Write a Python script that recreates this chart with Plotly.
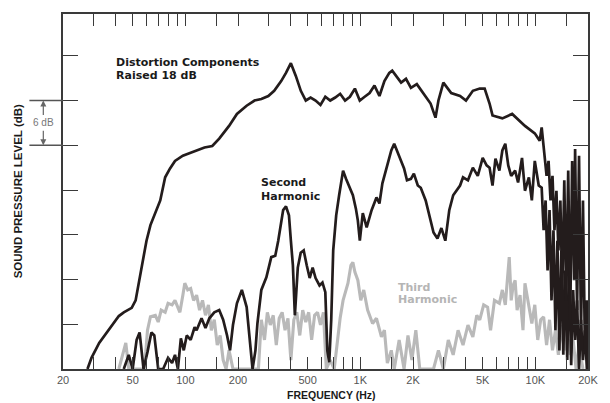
import math
import plotly.graph_objects as go

# Fundamental response (Hz, dB)
fund_freq = [27.6, 29.1, 32.2, 35.3, 38.2, 41.7, 44.5, 49.4, 52.0, 54.1, 56.9, 60.0, 63.2, 67.4,
             71.9, 76.7, 81.8, 87.3, 96.8, 107.3, 117.5, 128.7, 142.6, 156.2, 177.8, 197.2, 224,
             248.6, 272, 298, 322, 353, 376, 401, 428, 457, 488, 520, 555, 592, 631, 673, 719, 767,
             818, 872, 931, 993, 1059, 1130, 1205, 1286, 1373, 1464, 1522, 1603, 1710, 1824, 1946,
             2103, 2303, 2521, 2689, 2795, 2982, 3307, 3715, 4016, 4396, 4813, 5134, 5477, 5694,
             6480, 7375, 8074, 8726, 9931, 10594, 10872,
             11302, 11598, 11902, 12214, 12535, 12863, 13200, 13546, 13902, 14266, 14640, 15024,
             15418, 15822, 16237, 16662, 16879, 17322, 17776, 18241, 18720, 19210, 19714, 20000]
fund_db = [0.0, 1.5, 3.5, 4.8, 5.9, 7.1, 7.6, 8.2, 9.2, 11.5, 14.3, 17.2, 19.3, 20.9,
           22.6, 25.7, 26.9, 27.9, 28.6, 29.0, 29.3, 29.7, 29.9, 30.9, 32.6, 34.2, 35.3,
           36.0, 36.2, 36.6, 37.3, 38.6, 39.7, 41.0, 39.3, 37.3, 36.0, 36.4, 36.0, 35.4, 36.5, 36.0, 36.4, 36.9,
           36.0, 36.5, 37.6, 36.0, 36.5, 37.0, 38.0, 36.6, 38.6, 39.7, 40.0, 39.3, 38.4, 38.9, 37.7,
           38.2, 36.9, 35.6, 33.7, 36.0, 38.4, 37.0, 36.6, 36.0, 37.3, 37.6, 37.6, 35.6, 34.0,
           33.6, 34.2, 33.3, 32.6, 31.6, 30.6, 32.4,
           28.3, 25.9, 27.9, 22.6, 25.9, 18.6, 23.9, 15.9, 22.6, 10.6, 25.3, 9.2,
           26.6, 6.6, 27.9, 11.9, 29.5, 7.9, 28.6, 5.2, 22.6, 2.5, 9.2, 0.0]

# Second harmonic, raised 18 dB (Hz, dB)
h2_freq = [44.5, 47.5, 50.0, 52.7, 54.8, 57.7, 60.8, 64.0, 66.5, 70.0, 74.7, 79.7, 84.0, 87.3,
           90.7, 94.3, 98.0, 101.9, 107.3, 113.0, 116.0, 123.8, 130.4, 137.2, 146.4, 156.2, 164.5,
           173.2, 180.1, 187.2, 197.2, 210.4, 224.1, 233, 242.2, 251.6, 258.2, 271.9, 290.5, 309.9,
           326.6, 339.6, 353, 362.3, 376.1, 391, 401, 411.8, 422.6, 439.3, 456.6, 474.7, 494, 513.6,
           534, 555, 584.5, 607.6, 631, 647.6, 664.5, 682, 700, 728, 756.7, 776.6, 797, 828.3, 861,
           906.8, 943.3, 968, 993.4, 1033, 1087, 1160, 1237, 1286, 1337, 1427, 1503, 1562, 1624,
           1710, 1778, 1848, 1946, 2023, 2130, 2215, 2363, 2489, 2620, 2759, 2906, 3060, 3223, 3394,
           3528, 3715, 3863, 4121, 4396, 4690, 5003, 5269, 5477, 5694, 5919, 6233, 6480, 6737, 7004,
           7280, 7667, 7971, 8394, 8726, 9189, 9553, 9931, 10458,
           10872, 11157, 11449, 11750, 12057, 12373, 12698, 13030, 13373, 13722, 14083, 14452,
           14830, 15220, 15619, 16028, 16448, 16879, 17322, 17776, 18241, 18720, 19210, 19714]
h2_db = [0.0, 1.9, 0.0, 3.9, 4.9, 0.0, 2.3, 4.9, 4.5, 0.0, 0.0, 1.5, 0.8, 1.9,
         0.0, 4.1, 2.5, 4.5, 3.9, 5.6, 5.2, 6.8, 5.5, 6.8, 7.6, 7.9, 6.6,
         4.5, 2.5, 5.9, 8.8, 10.6, 8.3, 3.9, 0.0, 2.5, 6.1, 10.6, 12.3, 15.0,
         15.2, 17.2, 19.7, 21.3, 21.8, 20.6, 17.2, 13.9, 7.2, 13.6, 15.6, 15.9, 13.9, 12.2,
         13.6, 12.2, 11.2, 11.6, 10.3, 2.5, 0.9, 6.6, 15.9, 20.6, 23.3, 25.3, 26.6, 25.5, 24.6,
         23.3, 21.5, 19.9, 17.2, 20.9, 19.0, 21.3, 23.0, 22.2, 24.9, 27.5, 29.3, 30.2, 29.3,
         27.9, 26.9, 25.3, 25.5, 26.2, 24.6, 24.3, 22.6, 20.6, 18.3, 17.5, 18.9, 17.2, 21.3, 23.3,
         23.9, 24.6, 25.7, 25.3, 27.0, 25.9, 28.3, 27.3, 27.0, 24.6, 28.2, 26.6, 29.3, 30.2, 27.3,
         25.9, 26.6, 25.0, 28.3, 23.9, 25.7, 22.6, 27.9, 24.6,
         24.3, 18.6, 22.6, 13.2, 21.3, 9.2, 18.6, 5.2, 17.2, 2.5, 15.9, 1.9,
         13.2, 1.2, 14.6, 0.5, 10.6, 3.9, 9.2, 0.0, 6.6, 1.2, 5.2, 0.0]

# Third harmonic, raised 18 dB (Hz, dB)
h3_freq = [41.7, 44.0, 45.7, 47.5, 58.4, 60.8, 63.2, 67.4, 70.0, 72.8, 76.7, 79.7, 84.0, 87.3,
           90.7, 93.1, 96.8, 99.3, 103.2, 107.3, 111.5, 116.0, 120.6, 125.4, 130.4, 135.5, 140.8,
           146.4, 152.2, 158.2, 164.5, 171.0, 177.8, 187.2, 197.2, 261.6, 271.9, 283.4, 294.3, 306,
           318, 331, 344, 357.6, 371.4, 386, 401, 417, 433.6, 450.8, 468.6, 487.7, 507, 527, 548,
           569.6, 592, 615.5, 639.3, 673, 709.3, 737.4, 766.6, 797, 828.3, 850, 883.7, 906.8, 931,
           968, 1006, 1046, 1101, 1175, 1237, 1320, 1373, 1427, 1503, 1562, 1667, 1778, 1872, 1971,
           2076, 2186, 2394, 2620, 2795, 2982, 3182, 3394, 3620, 3863, 4121, 4396, 4629, 4813, 5068,
           5337, 5549, 5843, 6233, 6480, 6737, 6914, 7095, 7280, 7471, 7667, 7868, 8179, 8503, 8726,
           9071, 9553, 9931, 10324, 10732, 11157, 11598, 12057, 12535, 13030, 13546, 14083, 14640,
           15220, 15822, 16448, 17099, 17776, 18720]
h3_db = [0.0, 1.9, 3.5, 0.0, 0.0, 5.2, 7.0, 7.2, 6.3, 7.9, 7.6, 8.8, 8.6, 9.2,
         8.2, 7.6, 9.9, 11.5, 10.6, 10.8, 9.2, 9.9, 7.9, 9.2, 7.2, 8.6, 5.2,
         6.6, 3.2, 4.5, 1.2, 0.0, 2.5, 0.0, 0.0, 0.0, 6.6, 3.9, 7.6, 5.9,
         7.2, 3.2, 6.8, 7.6, 5.2, 6.8, 1.2, 6.6, 7.6, 4.5, 7.9, 6.3, 7.6, 3.9, 7.2,
         7.6, 5.9, 7.6, 0.0, 1.2, 0.0, 3.9, 6.8, 9.2, 10.6, 11.5, 13.9, 14.3, 13.0,
         11.9, 9.2, 10.6, 7.9, 6.1, 6.8, 4.3, 5.2, 0.8, 2.5, 0.0, 3.9, 0.0, 4.5, 1.2,
         5.2, 0.0, 0.0, 0.0, 2.5, 0.0, 3.9, 1.9, 5.2, 3.2, 5.9, 4.3, 7.2, 6.6, 8.6,
         8.3, 5.2, 9.2, 8.8, 10.6, 8.6, 11.9, 15.0, 9.2, 11.2, 11.9, 7.9, 9.9, 5.2, 11.5,
         9.2, 6.1, 8.6, 3.9, 6.6, 7.0, 3.2, 6.6, 2.5, 5.2, 1.9, 5.9, 2.5,
         5.2, 1.9, 3.9, 0.0, 3.2, 0.0]

# Frequency axis ticks: 1.5, 2, 3 ... 9 in every decade, labels on 2-5-10 steps
tick_freqs = [20, 30, 40, 50, 60, 70, 80, 90,
              100, 150, 200, 300, 400, 500, 600, 700, 800, 900,
              1000, 1500, 2000, 3000, 4000, 5000, 6000, 7000, 8000, 9000,
              10000, 15000, 20000]
tick_labels = {20: "20", 50: "50", 100: "100", 200: "200", 500: "500", 1000: "1K",
               2000: "2K", 5000: "5K", 10000: "10K", 20000: "20K"}
level_ticks = [6, 12, 18, 24, 30, 36, 42]

INK = "#231c1c"
GRAY = "#b9b9b9"
FRAME = "#3a3a3a"
FONT = "Liberation Sans, Arial, Helvetica, sans-serif"
LABEL_FONT = "DejaVu Sans, Liberation Sans, sans-serif"

fig = go.Figure()
fig.add_trace(go.Scatter(x=h3_freq, y=h3_db, mode="lines",
                         line=dict(color=GRAY, width=3.1), hoverinfo="skip"))
fig.add_trace(go.Scatter(x=h2_freq, y=h2_db, mode="lines",
                         line=dict(color=INK, width=2.7), hoverinfo="skip"))
fig.add_trace(go.Scatter(x=fund_freq, y=fund_db, mode="lines",
                         line=dict(color=INK, width=2.7), hoverinfo="skip"))

fig.update_xaxes(
    type="log", range=[math.log10(20), math.log10(20000)],
    tickvals=tick_freqs, ticktext=[tick_labels.get(f, "") for f in tick_freqs],
    ticks="inside", ticklen=12, tickwidth=1.4, tickcolor=FRAME,
    showline=True, linecolor=FRAME, linewidth=1.5, mirror="ticks",
    showgrid=False, zeroline=False,
    tickfont=dict(family=FONT, size=11, color="#555555"),
)
fig.update_yaxes(
    range=[0, 47.6], tickvals=level_ticks, showticklabels=False,
    ticks="inside", ticklen=15, tickwidth=1.4, tickcolor=FRAME,
    showline=True, linecolor=FRAME, linewidth=1.5, mirror="ticks",
    showgrid=False, zeroline=False,
)


def label(text, x, y, color="#1a1a1a"):
    return dict(text=f"<b>{text}</b>", xref="paper", yref="paper", x=x, y=y,
                xanchor="left", yanchor="middle", showarrow=False,
                font=dict(family=LABEL_FONT, size=11, color=color))


annotations = [
    label("Distortion Components", 0.097, 0.862),
    label("Raised 18 dB", 0.097, 0.826),
    label("Second", 0.374, 0.525),
    label("Harmonic", 0.374, 0.486),
    label("Third", 0.635, 0.230, "#b5b5b5"),
    label("Harmonic", 0.635, 0.197, "#b5b5b5"),
    dict(text="<b>SOUND PRESSURE LEVEL (dB)</b>", xref="paper", yref="paper",
         x=-0.086, y=0.5, textangle=-90, xanchor="center", yanchor="middle", showarrow=False,
         font=dict(family=FONT, size=11.5, color="#1a1a1a")),
    dict(text="<b>FREQUENCY (Hz)</b>", xref="paper", yref="paper",
         x=0.511, y=-0.073, xanchor="center", yanchor="middle", showarrow=False,
         font=dict(family=FONT, size=10.5, color="#1a1a1a")),
    # 6 dB scale marker
    dict(text="6 dB", xref="paper", yref="y", x=-0.0375, y=33, showarrow=False,
         xanchor="center", yanchor="middle", font=dict(family=FONT, size=10, color="#777777")),
    dict(text="", xref="paper", yref="y", x=-0.0375, y=36, ax=0, ay=16, showarrow=True,
         arrowhead=2, arrowsize=1, arrowwidth=1.2, arrowcolor="#666666"),
    dict(text="", xref="paper", yref="y", x=-0.0375, y=30, ax=0, ay=-16, showarrow=True,
         arrowhead=2, arrowsize=1, arrowwidth=1.2, arrowcolor="#666666"),
]

shapes = [
    dict(type="line", xref="paper", yref="y", x0=-0.064, x1=0, y0=36, y1=36,
         line=dict(color="#555555", width=1.3)),
    dict(type="line", xref="paper", yref="y", x0=-0.064, x1=0, y0=30, y1=30,
         line=dict(color="#555555", width=1.3)),
]

fig.update_layout(
    width=610, height=403,
    margin=dict(l=63, r=13, t=13, b=34),
    paper_bgcolor="white", plot_bgcolor="white",
    showlegend=False,
    annotations=annotations, shapes=shapes,
    font=dict(family=FONT),
)

fig.write_html("out.html")
